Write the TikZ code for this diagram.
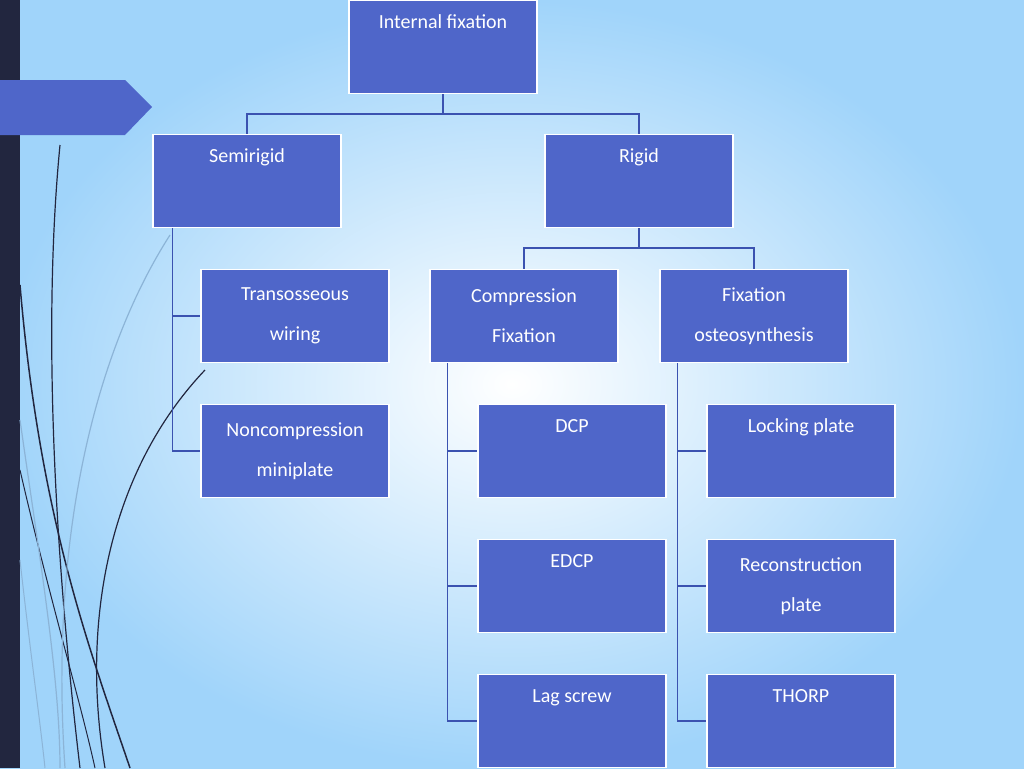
\documentclass[tikz,border=0pt]{standalone}
\usepackage{fontspec}
\setmainfont{Carlito}
\begin{document}
\begin{tikzpicture}[x=1pt,y=-1pt,
 box/.style={draw=white,line width=1.2pt,fill=boxblue,text=white,minimum width=188pt,minimum height=93pt,align=center,font=\fontsize{20}{40}\selectfont,inner sep=2pt},
 con/.style={draw=lineblue,line width=1.3pt}]
\definecolor{boxblue}{HTML}{4F66C9}
\definecolor{lineblue}{HTML}{3B52B0}
\definecolor{darkbar}{HTML}{22263F}
\definecolor{paleline}{RGB}{140,180,215}
\definecolor{bgouter}{RGB}{160,212,250}
\useasboundingbox (0,0) rectangle (1024,768);
\shade[inner color=white,outer color=bgouter] (0,0) rectangle (1024,768);
\fill[darkbar] (0,0) rectangle (20,768);
\fill[boxblue] (0,80) -- (125,80) -- (152,107) -- (125,135) -- (0,135) -- cycle;
% decorative curves
\draw[darkbar,line width=1.5pt] (20,285) .. controls (40,520) and (90,650) .. (130,768);
\draw[darkbar,line width=1.2pt] (60,145) .. controls (40,350) and (60,600) .. (80,768);
\draw[darkbar,line width=1.2pt] (205,370) .. controls (110,470) and (80,620) .. (105,768);
\draw[darkbar,line width=1pt] (20,470) .. controls (50,600) and (80,700) .. (95,768);
\draw[paleline,line width=1.2pt] (170,235) .. controls (90,360) and (50,550) .. (65,768);
\draw[paleline,line width=1.2pt] (20,420) .. controls (40,560) and (60,680) .. (60,768);
\draw[paleline,line width=1pt] (20,560) .. controls (30,650) and (40,720) .. (45,768);
% boxes
\node[box] (int) at (443,47) {Internal fixation\\[-2pt]\strut};
\node[box] (semi) at (247,181) {Semirigid\\[-2pt]\strut};
\node[box] (rig) at (639,181) {Rigid\\[-2pt]\strut};
\node[box] (trans) at (295,316) {Transosseous\\wiring};
\node[box] (nonc) at (295,451) {Noncompression\\miniplate};
\node[box] (comp) at (524,316) {Compression\\Fixation};
\node[box] (fixo) at (754,316) {Fixation\\osteosynthesis};
\node[box] (dcp) at (572,451) {DCP\\[-2pt]\strut};
\node[box] (edcp) at (572,586) {EDCP\\[-2pt]\strut};
\node[box] (lag) at (572,721) {Lag screw\\[-2pt]\strut};
\node[box] (lock) at (801,451) {Locking plate\\[-2pt]\strut};
\node[box] (recon) at (801,586) {Reconstruction\\plate};
\node[box] (thorp) at (801,721) {THORP\\[-2pt]\strut};
% connectors
\draw[con] (int.south) -- ++(0,20) -| (semi.north);
\draw[con] (int.south) ++(0,20) -| (rig.north);
\draw[con] (rig.south) -- ++(0,20) -| (comp.north);
\draw[con] (rig.south) ++(0,20) -| (fixo.north);
\draw[con] (semi.south west) ++(20,0) coordinate (s0) |- (trans.west);
\draw[con] (s0) |- (nonc.west);
\draw[con] (comp.south west) ++(18,0) coordinate (c0) |- (dcp.west);
\draw[con] (c0) |- (edcp.west);
\draw[con] (c0) |- (lag.west);
\draw[con] (fixo.south west) ++(18,0) coordinate (f0) |- (lock.west);
\draw[con] (f0) |- (recon.west);
\draw[con] (f0) |- (thorp.west);
\end{tikzpicture}
\end{document}
